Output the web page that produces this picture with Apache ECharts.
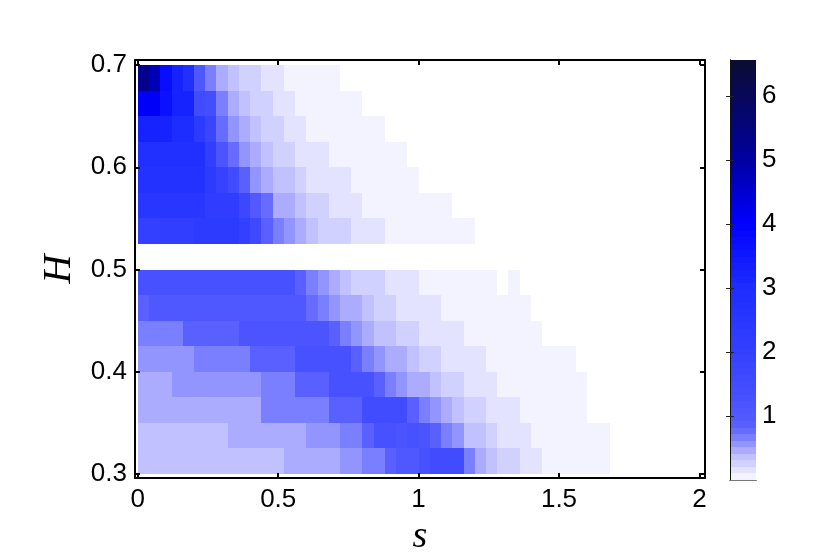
<!DOCTYPE html>
<html>
<head>
<meta charset="utf-8">
<style>html,body{margin:0;background:#fff}#chart{width:830px;height:559px}</style>
<script src="https://cdn.jsdelivr.net/npm/echarts@6/dist/echarts.min.js"></script>
</head>
<body>
<div id="chart"></div>
<script>
// cell size of the histogram, s and H
const cellS = 0.04;
const cellH = 0.025;

// one list per H bin (lower edge in the name), values from s = 0 rightwards
const h0675 = [5.3,4.8,3.7,3.2,2.8,1.1,.65,.45,.35,.25,.25,.15,.15,.05,.05,.05,.05,.05];
const h0650 = [4,4,3.6,3.2,3.2,1.5,1.4,.65,.45,.35,.25,.25,.15,.15,.05,.05,.05,.05,.05,.05];
const h0625 = [3.2,3.2,3.2,3,3,2.3,1.8,.75,.55,.45,.35,.25,.25,.15,.15,.05,.05,.05,.05,.05,.05,.05];
const h0600 = [2.8,2.8,2.8,2.8,2.8,2.8,2.1,1.2,.75,.55,.45,.35,.25,.25,.15,.15,.15,.05,.05,.05,.05,.05,.05,.05];
const h0575 = [2.7,2.7,2.7,2.7,2.7,2.7,2.3,1.9,1.5,.85,.55,.45,.35,.35,.25,.15,.15,.15,.15,.05,.05,.05,.05,.05,.05];
const h0550 = [2.5,2.5,2.5,2.5,2.5,2.5,2.2,2.2,2.2,1.7,.95,.75,.45,.45,.35,.25,.25,.15,.15,.15,.05,.05,.05,.05,.05,.05,.05,.05];
const h0525 = [2,2,2.1,2.1,2.1,2.3,2.3,2.3,2.3,2,1.6,.85,.65,.55,.45,.35,.25,.25,.25,.15,.15,.15,.05,.05,.05,.05,.05,.05,.05,.05];
const h0475 = [1.25,1.25,1.25,1.25,1.25,1.25,1.25,1.25,1.25,1.25,1.25,1.25,1.25,1.25,.85,.65,.6,.45,.35,.25,.25,.25,.15,.15,.15,.05,.05,.05,.05,.05,.05,.05,0,.05];
const h0450 = [.85,1.05,1.05,1.05,1.05,1.05,1.05,1.05,1.05,1.05,1.05,1.05,1.05,1.05,1.05,.75,.65,.55,.45,.45,.35,.25,.25,.15,.15,.15,.15,.05,.05,.05,.05,.05,.05,.05,.05];
const h0425 = [.7,.7,.7,.7,.85,.85,.85,.85,.85,1.15,1.15,1.15,1.15,1.15,1.15,1.15,1.15,.85,.65,.55,.45,.35,.35,.25,.25,.15,.15,.15,.15,.05,.05,.05,.05,.05,.05,.05];
const h0400 = [.6,.6,.6,.6,.6,.7,.7,.7,.7,.7,.85,.85,.85,.85,1.25,1.25,1.25,1.25,1.25,.85,.65,.6,.45,.45,.35,.25,.25,.15,.15,.15,.15,.05,.05,.05,.05,.05,.05,.05,.05];
const h0375 = [.45,.45,.45,.6,.6,.6,.6,.6,.6,.6,.6,.7,.7,.7,.85,.85,.85,1.25,1.25,1.25,1.25,.85,.65,.55,.45,.45,.35,.25,.25,.15,.15,.15,.05,.05,.05,.05,.05,.05,.05,.05];
const h0350 = [.5,.5,.5,.5,.5,.5,.5,.5,.5,.5,.5,.65,.65,.65,.65,.7,.7,.85,.85,.85,1.5,1.5,1.5,1.5,.85,.65,.6,.45,.35,.25,.25,.15,.15,.15,.05,.05,.05,.05,.05,.05];
const h0325 = [.35,.35,.35,.35,.35,.35,.35,.35,.45,.45,.45,.45,.45,.45,.45,.55,.55,.55,.65,.65,.85,1.25,1.25,1.15,1.25,1.15,.85,.65,.55,.35,.35,.25,.15,.15,.15,.05,.05,.05,.05,.05,.05,.05];
const h0300 = [.35,.35,.35,.35,.35,.35,.35,.35,.35,.35,.35,.35,.35,.45,.45,.45,.45,.45,.55,.55,.65,.65,.85,1.05,1.1,1.25,1.5,1.5,1.5,.65,.45,.35,.25,.25,.15,.15,.05,.05,.05,.05,.05,.05];

const rows = [
  [0.675, h0675], [0.65, h0650], [0.625, h0625], [0.6, h0600], [0.575, h0575], [0.55, h0550], [0.525, h0525],
  [0.475, h0475], [0.45, h0450], [0.425, h0425], [0.4, h0400], [0.375, h0375], [0.35, h0350], [0.325, h0325], [0.3, h0300]
];

// colour scale: value, r, g, b
const stops = [
  [0.05,243,242,255],[0.15,228,228,255],[0.25,210,210,255],[0.35,195,195,255],[0.45,175,175,255],
  [0.55,150,152,255],[0.65,125,130,255],[0.75,105,110,255],[0.85,92,97,255],[0.95,84,90,255],
  [1.25,72,82,255],[1.5,65,75,255],[2,52,64,255],[3,30,45,255],[4,0,0,255],[5,0,0,160],[6,8,8,90],[6.56,10,12,50]
];
const barMax = 6.56;
const barSteps = 64;
const barTicks = [1, 2, 3, 4, 5, 6];
const sTicks = [0, 0.5, 1, 1.5, 2];
const hTicks = [0.3, 0.4, 0.5, 0.6, 0.7];

function stopColor(v) {
  let i = 0;
  while (i < stops.length - 2 && v > stops[i + 1][0]) i++;
  const a = stops[i], b = stops[i + 1];
  const t = Math.max(0, Math.min(1, (v - a[0]) / (b[0] - a[0])));
  return 'rgb(' + [1, 2, 3].map(k => Math.round(a[k] + (b[k] - a[k]) * t)).join(',') + ')';
}
// the original colormap is stepped
function stepColor(v) {
  const step = barMax / barSteps;
  const k = Math.min(barSteps - 1, Math.floor(v / step));
  return stopColor((k + 0.5) * step);
}

const cells = [];
rows.forEach(function (row) {
  row[1].forEach(function (v, i) {
    if (v > 0) cells.push([i * cellS, row[0], (i + 1) * cellS, row[0] + cellH, v]);
  });
});
const barCells = [];
for (let k = 0; k < barSteps; k++) {
  barCells.push([0, k * barMax / barSteps, 1, (k + 1) * barMax / barSteps, (k + 0.5) * barMax / barSteps]);
}

function drawRect(params, api) {
  const p0 = api.coord([api.value(0), api.value(1)]).map(Math.round);
  const p1 = api.coord([api.value(2), api.value(3)]).map(Math.round);
  return {
    type: 'rect',
    shape: { x: p0[0], y: p1[1], width: p1[0] - p0[0], height: p0[1] - p1[1] },
    style: { fill: stepColor(api.value(4)) }
  };
}

const black = '#000';
const tickFont = { color: black, fontFamily: 'Liberation Sans', fontSize: 26 };

function frameAxis(extra) {
  return Object.assign({
    type: 'value',
    z: 10,
    splitLine: { show: false },
    axisLine: { show: true, onZero: false, lineStyle: { color: black, width: 2 } },
    axisTick: { show: true, inside: true, length: 5, lineStyle: { color: black, width: 2 } },
    axisLabel: { show: false }
  }, extra);
}

const chart = echarts.init(document.getElementById('chart'), null, { renderer: 'canvas' });
chart.setOption({
  animation: false,
  backgroundColor: '#fff',
  grid: [
    { left: 135, top: 60, width: 570, height: 418, outerBoundsMode: 'none' },
    { left: 730, top: 60, width: 26, height: 420, outerBoundsMode: 'none' }
  ],
  xAxis: [
    frameAxis({
      gridIndex: 0, position: 'bottom', min: -0.01, max: 2.02,
      name: 's', nameLocation: 'middle', nameGap: 37,
      nameTextStyle: { color: black, fontFamily: 'Liberation Serif', fontStyle: 'italic', fontSize: 38 },
      axisTick: { show: true, inside: true, length: 5, customValues: sTicks, lineStyle: { color: black, width: 2 } },
      axisLabel: Object.assign({ show: true, margin: 9, customValues: sTicks, formatter: v => String(v) }, tickFont)
    }),
    frameAxis({
      gridIndex: 0, position: 'top', min: -0.01, max: 2.02,
      axisTick: { show: true, inside: true, length: 5, customValues: sTicks, lineStyle: { color: black, width: 2 } }
    }),
    frameAxis({
      gridIndex: 1, position: 'bottom', min: 0, max: 1,
      axisLine: { show: true, lineStyle: { color: '#111', width: 1 } }, axisTick: { show: false }
    }),
    frameAxis({
      gridIndex: 1, position: 'top', min: 0, max: 1,
      axisLine: { show: true, lineStyle: { color: '#777', width: 1 } }, axisTick: { show: false }
    })
  ],
  yAxis: [
    frameAxis({
      gridIndex: 0, position: 'left', min: 0.2961, max: 0.7049,
      name: 'H', nameLocation: 'middle', nameGap: 52,
      nameTextStyle: { color: black, fontFamily: 'Liberation Serif', fontStyle: 'italic', fontSize: 40 },
      axisTick: { show: true, inside: true, length: 5, customValues: hTicks, lineStyle: { color: black, width: 2 } },
      axisLabel: Object.assign({ show: true, margin: 8, padding: [4, 0, 0, 0], customValues: hTicks, formatter: v => v.toFixed(1) }, tickFont)
    }),
    frameAxis({
      gridIndex: 0, position: 'right', min: 0.2961, max: 0.7049,
      axisTick: { show: true, inside: true, length: 5, customValues: hTicks, lineStyle: { color: black, width: 2 } }
    }),
    frameAxis({
      gridIndex: 1, position: 'left', min: 0, max: barMax,
      axisLine: { show: true, lineStyle: { color: '#111', width: 1 } },
      axisTick: { show: true, inside: true, length: 4, customValues: barTicks, lineStyle: { color: '#222', width: 1 } }
    }),
    frameAxis({
      gridIndex: 1, position: 'right', min: 0, max: barMax,
      axisLine: { show: true, lineStyle: { color: '#111', width: 1 } },
      axisTick: { show: true, inside: true, length: 4, customValues: barTicks, lineStyle: { color: '#222', width: 1 } },
      axisLabel: Object.assign({ show: true, margin: 6, padding: [4, 0, 0, 0], customValues: barTicks, formatter: v => String(v) }, tickFont)
    })
  ],
  series: [
    { type: 'custom', xAxisIndex: 0, yAxisIndex: 0, data: cells, renderItem: drawRect, silent: true, clip: true },
    { type: 'custom', xAxisIndex: 2, yAxisIndex: 2, data: barCells, renderItem: drawRect, silent: true, clip: true }
  ]
});
</script>
</body>
</html>
